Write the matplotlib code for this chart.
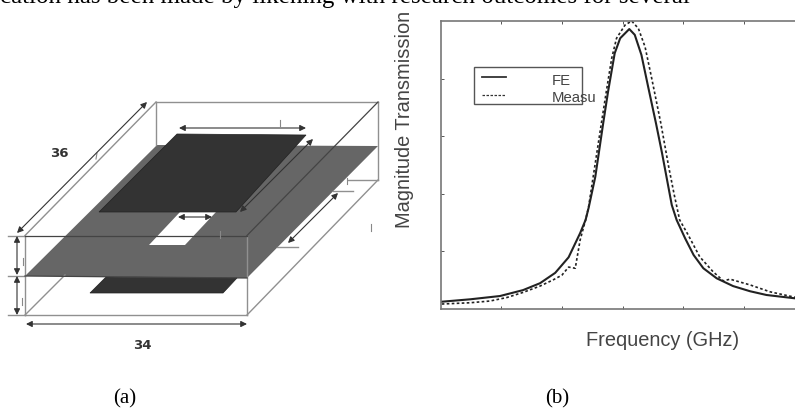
#!/usr/bin/env python3

import matplotlib

matplotlib.use("Agg")
import matplotlib.pyplot as plt
from matplotlib.patches import Polygon, Rectangle

# Curves
freq_fe = [0.02, 0.49, 0.98, 1.36, 1.64, 1.89, 2.11, 2.30, 2.39, 2.44, 2.55, 2.68, 2.76, 2.87,
           2.96, 3.11, 3.20, 3.31, 3.42, 3.55, 3.65, 3.81, 3.89, 4.03, 4.17, 4.33, 4.55,
           4.82, 5.10, 5.37, 5.84]
mag_fe = [0.118, 0.16, 0.217, 0.32, 0.44, 0.62, 0.89, 1.31, 1.54, 1.75, 2.29, 3.22, 3.77, 4.44,
          4.70, 4.86, 4.76, 4.41, 3.86, 3.22, 2.70, 1.80, 1.54, 1.22, 0.93, 0.70, 0.525,
          0.39, 0.30, 0.235, 0.177]
freq_meas = [0.02, 0.49, 0.815, 1.09, 1.36, 1.64, 1.86, 2.0, 2.11, 2.22, 2.30, 2.39, 2.44, 2.55,
             2.65, 2.74, 2.82, 2.90, 3.04, 3.15, 3.26, 3.37, 3.48, 3.63, 3.76, 3.85, 3.94,
             4.08, 4.27, 4.49, 4.66, 4.77, 5.10, 5.43, 5.84]
mag_meas = [0.078, 0.10, 0.13, 0.19, 0.28, 0.39, 0.50, 0.58, 0.72, 0.70, 1.19, 1.54, 1.77, 2.53,
            3.22, 3.83, 4.35, 4.70, 4.93, 5.0, 4.87, 4.55, 4.0, 3.22, 2.46, 1.98, 1.54,
            1.28, 0.90, 0.64, 0.48, 0.51, 0.41, 0.29, 0.195]
legend_labels = ["FE", "Measu"]

# Panel (a) shapes, in image pixels
plane = [(25, 276), (157, 145), (378, 146), (247, 278)]
slot = [(149, 245), (185, 245), (216, 212), (180, 212)]
top_patch = [(177, 134), (306, 135), (236, 212), (99, 212)]
bottom_patch = [(106, 277), (237, 278), (223, 293), (90, 293)]
box_dark = [
    ((25, 235.5), (247, 235.5)),
    ((247, 235.5), (378, 102)),
    ((25, 276), (247, 278)),
]
box_light = [
    ((25, 235.5), (156, 102)),
    ((156, 102), (378, 102)),
    ((156, 102), (156, 145)),
    ((378, 102), (378, 180)),
    ((25, 315), (247, 315)),
    ((25, 235.5), (25, 315)),
    ((247, 235.5), (247, 315)),
    ((247, 315), (378, 180)),
    ((25, 315), (65, 275)),
    ((348, 180), (378, 180)),
    ((8, 235.5), (25, 235.5)),
    ((8, 275.5), (25, 275.5)),
    ((8, 315), (25, 315)),
    ((277, 247), (298, 247)),
    ((333, 190.7), (353, 190.7)),
]
arrows = [
    ((17, 233), (147, 102)),
    ((179, 128), (306, 128)),
    ((240, 212), (313, 139)),
    ((288, 243), (338, 193)),
    ((178, 217), (212, 217)),
    ((17, 236), (17, 275)),
    ((17, 276), (17, 315)),
    ((26, 324), (247, 324)),
]
ticks_small = [
    ((97, 153), (96, 159)),
    ((280, 120), (280, 126)),
    ((347, 178), (347, 184)),
    ((220, 231), (220, 238)),
    ((371, 224), (371, 231)),
    ((23, 258), (23, 265)),
    ((22, 298), (22, 305)),
]

fig = plt.figure(figsize=(7.95, 4.09), dpi=100)

# Overlay in pixels for the diagram and loose text
ov = fig.add_axes([0, 0, 1, 1])
ov.set_xlim(0, 795)
ov.set_ylim(409, 0)
ov.axis("off")

ov.add_patch(Polygon(plane, fc="#666666", ec="none", zorder=1))
ov.add_patch(Polygon(slot, fc="white", ec="none", zorder=2))
ov.add_patch(Polygon(top_patch, fc="#333333", ec="#222222", lw=0.5, zorder=3))
ov.add_patch(Polygon(bottom_patch, fc="#333333", ec="#222222", lw=0.5, zorder=3))
for a, b in box_light:
    ov.plot([a[0], b[0]], [a[1], b[1]], color="#909090", lw=1.0, zorder=2)
for a, b in box_dark:
    ov.plot([a[0], b[0]], [a[1], b[1]], color="#444444", lw=0.9, zorder=4)
for a, b in ticks_small:
    ov.plot([a[0], b[0]], [a[1], b[1]], color="#888888", lw=0.8, zorder=4)
for a, b in arrows:
    ov.annotate("", xy=b, xytext=a, zorder=5,
                arrowprops=dict(arrowstyle="<|-|>", color="#333333", lw=0.8,
                                mutation_scale=9, shrinkA=0, shrinkB=0))

ov.text(59, 153.5, "36", fontsize=9.5, fontweight="bold", color="#333333",
        ha="center", va="center", family="DejaVu Sans")
ov.text(142, 345.5, "34", fontsize=9.5, fontweight="bold", color="#333333",
        ha="center", va="center", family="DejaVu Sans")
ov.text(125, 399, "(a)", fontsize=15, ha="center", va="center", family="Liberation Serif")
ov.text(557, 399, "(b)", fontsize=15, ha="center", va="center", family="Liberation Serif")
ov.text(690, 3.5, "cation has been made by likening with research outcomes for several",
        fontsize=18, ha="right", va="baseline", family="Liberation Serif")

ov.text(405, 119, "Magnitude Transmission", fontsize=14.4, color="#444444", rotation=90,
        ha="center", va="center", family="Liberation Sans")
ov.text(663, 340, "Frequency (GHz)", fontsize=14.4, color="#444444",
        ha="center", va="center", family="Liberation Sans")

# Panel (b)
ax = fig.add_axes([440.5 / 795, 1 - 308.5 / 409, 354.5 / 795, 287.5 / 409])
ax.patch.set_alpha(0)
ax.set_xlim(0, 5.84)
ax.set_ylim(0, 5)
ax.plot(freq_fe, mag_fe, color="#222222", lw=1.5)
ax.plot(freq_meas, mag_meas, color="#222222", lw=1.2, dashes=(1.6, 1.4), clip_on=False)
ax.set_xticks([1, 2, 3, 4, 5])
ax.set_yticks([1, 2, 3, 4])
ax.tick_params(direction="in", length=2.5, width=0.7, color="#555555",
               top=True, labelleft=False, labelbottom=False)
ax.spines["right"].set_visible(False)
for side in ["left", "bottom", "top"]:
    ax.spines[side].set_color("#777777")
    ax.spines[side].set_linewidth(1.2)

# Hand placed legend, the label runs out of its box as in the picture
ov.set_zorder(ax.get_zorder() + 1)
ov.add_patch(Rectangle((474, 67), 108, 37, fc="none", ec="#555555", lw=1.0))
ov.plot([482, 506], [77, 77], color="#333333", lw=1.3)
ov.plot([482, 506], [94.5, 94.5], color="#333333", lw=0.9, dashes=(2, 1.2))
ov.text(552, 81, legend_labels[0], fontsize=10.7, color="#444444", va="center",
        family="Liberation Sans")
ov.text(552, 98, legend_labels[1], fontsize=10.7, color="#444444", va="center",
        family="Liberation Sans")

fig.savefig("out.png", dpi=100)
